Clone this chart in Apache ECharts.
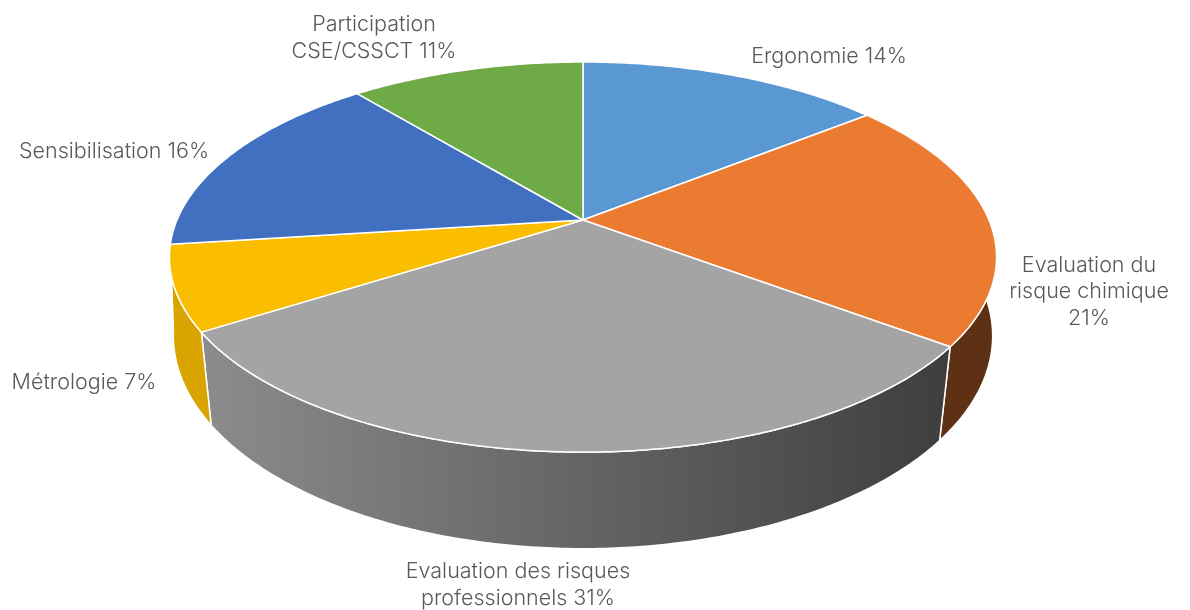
<!DOCTYPE html>
<html>
<head>
<meta charset="utf-8">
<style>
html, body { margin: 0; padding: 0; background: #fff; }
#main { width: 1190px; height: 610px; }
</style>
<script src="https://cdn.jsdelivr.net/npm/echarts@6/dist/echarts.min.js"></script>
</head>
<body>
<div id="main"></div>
<script>
var categories = ['Ergonomie', 'Evaluation du risque chimique', 'Evaluation des risques professionnels', 'Métrologie', 'Sensibilisation', 'Participation CSE/CSSCT'];
var values = [14.3, 20.9, 30.8, 7, 16, 11];
var labelLines = [
    ['Ergonomie 14%'],
    ['Evaluation du', 'risque chimique', '21%'],
    ['Evaluation des risques', 'professionnels 31%'],
    ['Métrologie 7%'],
    ['Sensibilisation 16%'],
    ['Participation', 'CSE/CSSCT 11%']
];
var topColors = ['#5a98d4', '#eb7b31', '#a4a4a4', '#fbbd00', '#4270c0', '#6eab46'];
// back slices show no side wall
var sideColors = [null, '#5e3014', 'gradient', '#d9a300', null, null];
var labelCenters = [[829, 57], [1089, 292], [518, 585], [84, 383], [114, 152], [374, 38]];

var chart = echarts.init(document.getElementById('main'));
var total = values.reduce(function (a, b) { return a + b; }, 0);

// perspective of the pie plane, top face and bottom face of the disc
var topFace = { cx: 583, cy: 220, rx: 406, ry: 188, persp: 0.19 };
var bottomFace = { cx: 583, cy: 304, rx: 405, ry: 208, persp: 0.15 };

function project(face, theta) {
    var w = 1 + face.persp * Math.cos(theta);
    return [face.cx + face.rx * Math.sin(theta) / w, face.cy - face.ry * Math.cos(theta) / w];
}

function arc(face, a0, a1) {
    var pts = [];
    var n = Math.max(2, Math.ceil((a1 - a0) * 90));
    for (var i = 0; i <= n; i++) {
        pts.push(project(face, a0 + (a1 - a0) * i / n));
    }
    return pts;
}

function sideFill(index) {
    if (sideColors[index] !== 'gradient') {
        return sideColors[index];
    }
    return new echarts.graphic.LinearGradient(201, 0, 949, 0, [
        { offset: 0, color: '#8c8c8c' },
        { offset: 1, color: '#3e3e3e' }
    ], true);
}

function renderSlice(params, api) {
    var i = params.dataIndex;
    var before = 0;
    for (var k = 0; k < i; k++) {
        before += values[k];
    }
    var a0 = before / total * Math.PI * 2;
    var a1 = (before + api.value(0)) / total * Math.PI * 2;

    var topArc = arc(topFace, a0, a1);
    var bottomArc = arc(bottomFace, a0, a1).reverse();
    var center = labelCenters[i];
    var children = [
        {
            type: 'polygon',
            z2: 2,
            shape: { points: [[topFace.cx, topFace.cy]].concat(topArc) },
            style: { fill: topColors[i], stroke: '#fff', lineWidth: 1.5, lineJoin: 'round' }
        },
        {
            type: 'text',
            z2: 3,
            style: {
                x: center[0],
                y: center[1],
                text: labelLines[i].join('\n'),
                align: 'center',
                verticalAlign: 'middle',
                lineHeight: 26.5,
                fontFamily: 'Inter',
                fontSize: 21.5,
                fontWeight: 300,
                fill: '#595959'
            }
        }
    ];
    if (sideColors[i]) {
        children.unshift({
            type: 'polygon',
            z2: 1,
            shape: { points: topArc.concat(bottomArc) },
            style: { fill: sideFill(i), stroke: '#fff', lineWidth: 1.5, lineJoin: 'round' }
        });
    }
    return { type: 'group', children: children };
}

chart.setOption({
    backgroundColor: '#fff',
    animation: false,
    series: [
        {
            type: 'custom',
            coordinateSystem: 'none',
            renderItem: renderSlice,
            data: values.map(function (v, i) {
                return { name: categories[i], value: v };
            })
        }
    ]
});
</script>
</body>
</html>
